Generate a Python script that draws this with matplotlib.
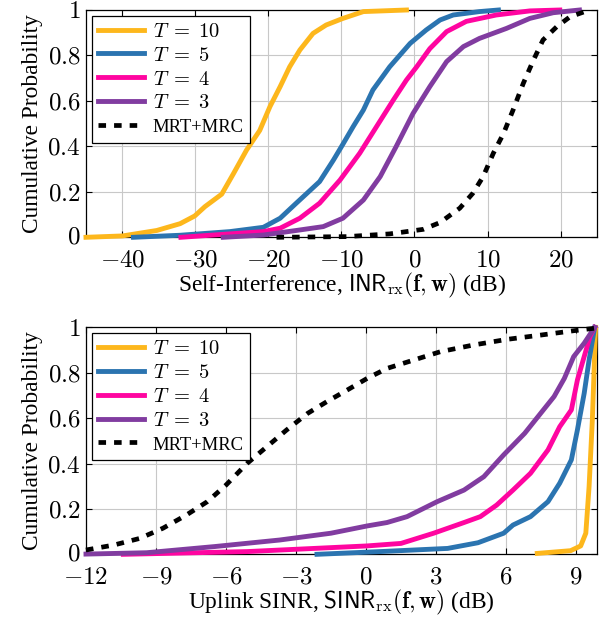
import matplotlib
matplotlib.use("Agg")
import matplotlib.pyplot as plt
from matplotlib.ticker import FixedLocator
from matplotlib.transforms import ScaledTranslation

plt.rcParams['font.family'] = ['Liberation Serif', 'DejaVu Serif']
plt.rcParams['mathtext.fontset'] = 'cm'

# ---------------- data: self-interference CDF (x in dB, p) ----------------
si_t10_x = [-45, -40, -35.3, -32.1, -30.1, -28.7, -26.4, -24.8, -23.0, -21.2, -19.8, -18.4,
            -17.1, -15.7, -13.9, -12.1, -9.8, -7.0, -1.1]
si_t10_p = [0, 0.006, 0.03, 0.06, 0.094, 0.135, 0.19, 0.28, 0.384, 0.47, 0.575, 0.663,
            0.75, 0.824, 0.897, 0.934, 0.963, 0.993, 1.0]
si_t5_x = [-38.5, -32.1, -25.3, -20.7, -18.4, -16.2, -13.0, -11.1, -9.8, -8.4, -7.0, -5.7,
           -3.4, -0.6, 1.6, 3.5, 5.3, 8.9, 11.5]
si_t5_p = [0, 0.009, 0.025, 0.044, 0.084, 0.15, 0.245, 0.34, 0.41, 0.487, 0.56, 0.648,
           0.75, 0.853, 0.912, 0.956, 0.978, 0.993, 1.0]
si_t4_x = [-32, -25.3, -20.7, -18.4, -15.7, -13.0, -10.2, -7.5, -5.2, -2.9, -1.1, 0.3,
           2.1, 4.4, 7.1, 11.2, 15.8, 19.9]
si_t4_p = [0, 0.015, 0.025, 0.04, 0.084, 0.15, 0.252, 0.37, 0.487, 0.604, 0.692, 0.75,
           0.83, 0.905, 0.95, 0.978, 0.996, 1.0]
si_t3_x = [-26.2, -20.7, -16.2, -12.5, -9.8, -7.0, -4.7, -2.5, -0.2, 2.1, 4.4, 6.7,
           8.9, 12.6, 15.8, 19.0, 22.6]
si_t3_p = [0, 0.01, 0.03, 0.047, 0.084, 0.164, 0.267, 0.4, 0.545, 0.663, 0.773, 0.839,
           0.875, 0.919, 0.963, 0.988, 1.0]
si_mrt_x = [-18.9, -9.3, -3.4, 1.2, 3.5, 6.2, 8.0, 9.4, 10.8, 12.2, 13.5, 14.9,
            16.3, 17.6, 19.5, 21.3, 23.6]
si_mrt_p = [0, 0.003, 0.015, 0.035, 0.065, 0.128, 0.194, 0.267, 0.37, 0.457, 0.56, 0.677,
            0.78, 0.868, 0.927, 0.97, 0.996]

# ---------------- data: uplink SINR CDF ----------------
sinr_t10_x = [7.34, 8.77, 9.2, 9.42, 9.56, 9.7, 9.84]
sinr_t10_p = [0.004, 0.016, 0.037, 0.093, 0.298, 0.592, 1.0]
sinr_t5_x = [-2.1, 0.6, 3.5, 4.8, 5.9, 6.3, 7.05, 7.8, 8.3, 8.8, 9.06, 9.35, 9.56, 9.8]
sinr_t5_p = [0, 0.012, 0.026, 0.051, 0.093, 0.129, 0.166, 0.232, 0.313, 0.416, 0.548,
             0.709, 0.856, 1.0]
sinr_t4_x = [-10.4, -5.1, 0.05, 1.5, 2.9, 4.2, 4.9, 5.6, 6.3, 7.05, 7.8, 8.3, 8.8,
             9.06, 9.35, 9.6, 9.8]
sinr_t4_p = [0, 0.012, 0.037, 0.048, 0.093, 0.14, 0.166, 0.217, 0.283, 0.357, 0.46,
             0.562, 0.636, 0.768, 0.871, 0.959, 1.0]
sinr_t3_x = [-12, -9.4, -6.5, -3.7, -1.5, 0.05, 0.9, 1.76, 3.05, 4.2, 5.05, 5.9, 6.8,
             7.6, 8.06, 8.5, 8.9, 9.35, 9.8]
sinr_t3_p = [0.001, 0.007, 0.034, 0.063, 0.093, 0.125, 0.14, 0.166, 0.232, 0.283, 0.342,
             0.438, 0.533, 0.636, 0.695, 0.775, 0.871, 0.93, 1.0]
sinr_mrt_x = [-12, -10.8, -9.7, -8.7, -7.7, -6.8, -6.0, -5.1, -4.25, -3.4, -2.5, -1.67,
              -0.8, 0.05, 0.9, 2.05, 3.2, 4.6, 6.05, 7.5, 8.9, 9.8]
sinr_mrt_p = [0.019, 0.041, 0.07, 0.115, 0.173, 0.232, 0.305, 0.4, 0.474, 0.548, 0.621,
              0.673, 0.724, 0.775, 0.819, 0.856, 0.893, 0.922, 0.947, 0.966, 0.985, 0.996]

labels = [r'$T\;{=}\;10$', r'$T\;{=}\;5$', r'$T\;{=}\;4$', r'$T\;{=}\;3$', 'MRT+MRC']
colors = ['#FDB71C', '#2B74B0', '#FF05A0', '#813CA0', 'black']

si_xticks = [-40, -30, -20, -10, 0, 10, 20]
sinr_xticks = [-12, -9, -6, -3, 0, 3, 6, 9]
yticks = [0, 0.2, 0.4, 0.6, 0.8, 1]
ytick_labels = ['0', '0.2', '0.4', '0.6', '0.8', '1']

fig = plt.figure(figsize=(6.05, 6.17), dpi=100)
ax1 = fig.add_axes([0.1421, 0.6154, 0.8447, 0.3684])
ax2 = fig.add_axes([0.1421, 0.1016, 0.8447, 0.3679])


def draw(ax, series, xlim, xticks, xlabel):
    for (x, p), lab, c in zip(series, labels, colors):
        if c == 'black':
            ax.plot(x, p, color=c, lw=3.4, ls=(0, (1.6, 1.7)), label=lab,
                    dash_capstyle='butt', clip_on=False, zorder=3)
        else:
            ax.plot(x, p, color=c, lw=3.5, label=lab, clip_on=False, zorder=3)
    ax.set_xlim(*xlim)
    ax.set_ylim(0, 1)
    ax.xaxis.set_major_locator(FixedLocator(xticks))
    ax.set_xticklabels([f'${v}$' for v in xticks])
    ax.set_yticks(yticks)
    ax.set_yticklabels([f'${v}$' for v in ytick_labels])
    ax.tick_params(direction='in', length=4, width=0.8, labelsize=18,
                   top=True, right=True, pad=4)
    ax.tick_params(axis='x', pad=9)
    # nudge the bottom "0" label up slightly so it clears the first x label
    zero_lab = ax.get_yticklabels()[0]
    zero_lab.set_transform(zero_lab.get_transform() +
                           ScaledTranslation(0, 1.5 / 72, fig.dpi_scale_trans))
    ax.grid(True, color='#c8c8c8', lw=0.8)
    ax.set_axisbelow(True)
    for s in ax.spines.values():
        s.set_linewidth(0.9)
    ax.set_ylabel('Cumulative Probability', fontsize=16.8, labelpad=3)
    ax.set_xlabel(xlabel, fontsize=16.8, labelpad=-1)
    leg = ax.legend(loc='upper left', fontsize=14.8, frameon=True, fancybox=False,
                    edgecolor='black', framealpha=1, handlelength=2.2,
                    borderaxespad=0.3, labelspacing=0.22, handletextpad=0.45,
                    borderpad=0.3)
    leg.get_frame().set_linewidth(0.9)
    leg.get_texts()[4].set_fontsize(13.4)


draw(ax1, [(si_t10_x, si_t10_p), (si_t5_x, si_t5_p), (si_t4_x, si_t4_p),
           (si_t3_x, si_t3_p), (si_mrt_x, si_mrt_p)],
     (-45, 25), si_xticks,
     r'Self-Interference, $\mathsf{INR}_{\mathrm{rx}}(\mathbf{f},\mathbf{w})$ (dB)')
draw(ax2, [(sinr_t10_x, sinr_t10_p), (sinr_t5_x, sinr_t5_p), (sinr_t4_x, sinr_t4_p),
           (sinr_t3_x, sinr_t3_p), (sinr_mrt_x, sinr_mrt_p)],
     (-12, 9.9), sinr_xticks,
     r'Uplink SINR, $\mathsf{SINR}_{\mathrm{rx}}(\mathbf{f},\mathbf{w})$ (dB)')

fig.savefig('out.png', dpi=100)
